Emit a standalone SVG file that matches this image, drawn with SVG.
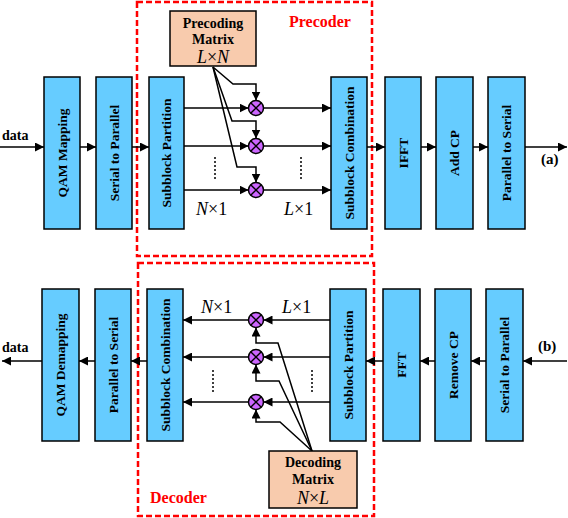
<svg xmlns="http://www.w3.org/2000/svg" width="568" height="518" viewBox="0 0 568 518">
<defs>
<marker id="ah" viewBox="0 0 10 10" refX="10" refY="5" markerWidth="9" markerHeight="9" markerUnits="userSpaceOnUse" orient="auto">
<path d="M0,0 L10,5 L0,10 z" fill="#000"/>
</marker>
<g id="mul">
<circle r="7.5" fill="#CC66FF" stroke="#000" stroke-width="1.5"/>
<path d="M-5.3,-5.3 L5.3,5.3 M-5.3,5.3 L5.3,-5.3" stroke="#000" stroke-width="1.3"/>
</g>
</defs>
<style>
.blk{fill:#66CCFF;stroke:#000;stroke-width:1.5}
.mat{fill:#F8CBAD;stroke:#000;stroke-width:1.5}
.bt{font-family:"Liberation Serif",serif;font-weight:bold;font-size:13.5px;text-anchor:middle}
.mt{font-family:"Liberation Serif",serif;font-weight:bold;font-size:14px;text-anchor:middle}
.math{font-family:"Liberation Serif",serif;font-size:18px}
.lbl{font-family:"Liberation Serif",serif;font-weight:bold;font-size:14px}
.red{font-family:"Liberation Serif",serif;font-weight:bold;font-size:16px;fill:#FF0000}
.c{fill:none;stroke:#000;stroke-width:1.5}
.a{fill:none;stroke:#000;stroke-width:1.5;marker-end:url(#ah)}
.dot{fill:none;stroke:#000;stroke-width:1.5;stroke-dasharray:2 2}
.dash{fill:none;stroke:#FF0000;stroke-width:2.5;stroke-dasharray:6 3}
</style>

<g id="precoder-frame">
<rect x="137" y="2" width="235" height="254" class="dash"/>
<text x="289" y="27" class="red">Precoder</text>
</g>
<g id="decoder-frame">
<rect x="138" y="263" width="236" height="253" class="dash"/>
<text x="150" y="503" class="red">Decoder</text>
</g>

<g id="connectors">
<line x1="0" y1="147" x2="44" y2="147" class="a"/>
<line x1="80" y1="147" x2="96" y2="147" class="a"/>
<line x1="132" y1="147" x2="149" y2="147" class="a"/>
<line x1="367" y1="147" x2="385" y2="147" class="a"/>
<line x1="421" y1="147" x2="436" y2="147" class="a"/>
<line x1="473" y1="147" x2="488" y2="147" class="a"/>
<line x1="525" y1="147" x2="567" y2="147" class="a"/>
<line x1="184" y1="108" x2="248.5" y2="108" class="a"/>
<line x1="184" y1="146" x2="248.5" y2="146" class="a"/>
<line x1="184" y1="190" x2="248.5" y2="190" class="a"/>
<line x1="263.5" y1="108" x2="331" y2="108" class="a"/>
<line x1="263.5" y1="146" x2="331" y2="146" class="a"/>
<line x1="263.5" y1="190" x2="331" y2="190" class="a"/>
<polyline points="213,67 233,84 256,84 256,100.5" class="a"/>
<polyline points="213,67 232,121 256,121 256,138.5" class="a"/>
<polyline points="213,67 237,167 256,167 256,182.5" class="a"/>
<line x1="215" y1="157" x2="215" y2="181" class="dot"/>
<line x1="301" y1="157" x2="301" y2="181" class="dot"/>
<line x1="567" y1="361" x2="523" y2="361" class="a"/>
<line x1="486" y1="361" x2="471" y2="361" class="a"/>
<line x1="435" y1="361" x2="420" y2="361" class="a"/>
<line x1="383" y1="361" x2="366" y2="361" class="a"/>
<line x1="147" y1="361" x2="131" y2="361" class="a"/>
<line x1="95" y1="361" x2="79" y2="361" class="a"/>
<line x1="42" y1="361" x2="2" y2="361" class="a"/>
<line x1="330" y1="320" x2="263.5" y2="320" class="a"/>
<line x1="330" y1="357" x2="263.5" y2="357" class="a"/>
<line x1="330" y1="402" x2="263.5" y2="402" class="a"/>
<line x1="248.5" y1="320" x2="183" y2="320" class="a"/>
<line x1="248.5" y1="357" x2="183" y2="357" class="a"/>
<line x1="248.5" y1="402" x2="183" y2="402" class="a"/>
<polyline points="312,451 278,343 256,343 256,327.5" class="a"/>
<polyline points="312,451 279,381 256,381 256,364.5" class="a"/>
<polyline points="312,451 280,422 256,422 256,409.5" class="a"/>
<line x1="213" y1="370" x2="213" y2="393" class="dot"/>
<line x1="312" y1="370" x2="312" y2="393" class="dot"/>
</g>

<g id="labels">
<text x="2" y="140" class="lbl">data</text>
<text x="541" y="164" class="lbl" style="font-size:15px">(a)</text>
<text x="2" y="352" class="lbl">data</text>
<text x="538" y="351" class="lbl" style="font-size:15px">(b)</text>
<text x="196" y="215" class="math"><tspan font-style="italic">N</tspan>×1</text>
<text x="284" y="215" class="math"><tspan font-style="italic">L</tspan>×1</text>
<text x="201" y="313" class="math"><tspan font-style="italic">N</tspan>×1</text>
<text x="282" y="313" class="math"><tspan font-style="italic">L</tspan>×1</text>
</g>

<g id="mult-top">
<use href="#mul" x="256" y="108"/>
<use href="#mul" x="256" y="146"/>
<use href="#mul" x="256" y="190"/>
</g>
<g id="mult-bottom">
<use href="#mul" x="256" y="320"/>
<use href="#mul" x="256" y="357"/>
<use href="#mul" x="256" y="402"/>
</g>

<g id="precoding-matrix">
<rect x="170" y="11" width="86" height="55" class="mat"/>
<text x="213" y="28" class="mt">Precoding</text>
<text x="213" y="44" class="mt">Matrix</text>
<text x="213" y="63" class="math" text-anchor="middle"><tspan font-style="italic">L</tspan>×<tspan font-style="italic">N</tspan></text>
</g>
<g id="decoding-matrix">
<rect x="269" y="451" width="88" height="57" class="mat"/>
<text x="313" y="467" class="mt">Decoding</text>
<text x="313" y="484" class="mt">Matrix</text>
<text x="313" y="504" class="math" text-anchor="middle"><tspan font-style="italic">N</tspan>×<tspan font-style="italic">L</tspan></text>
</g>

<g id="qam-mapping"><rect x="44" y="77" width="36" height="152" class="blk"/><text transform="translate(62,153) rotate(-90)" dy="0.35em" class="bt">QAM Mapping</text></g>
<g id="s2p-top"><rect x="96" y="77" width="36" height="152" class="blk"/><text transform="translate(114,153) rotate(-90)" dy="0.35em" class="bt">Serial to Parallel</text></g>
<g id="sp-top"><rect x="149" y="77" width="35" height="152" class="blk"/><text transform="translate(166.5,153) rotate(-90)" dy="0.35em" class="bt">Subblock Partition</text></g>
<g id="sc-top"><rect x="331" y="77" width="36" height="152" class="blk"/><text transform="translate(349,153) rotate(-90)" dy="0.35em" class="bt">Subblock Combination</text></g>
<g id="ifft"><rect x="385" y="77" width="36" height="152" class="blk"/><text transform="translate(403,153) rotate(-90)" dy="0.35em" class="bt">IFFT</text></g>
<g id="add-cp"><rect x="436" y="77" width="37" height="152" class="blk"/><text transform="translate(454.5,153) rotate(-90)" dy="0.35em" class="bt">Add CP</text></g>
<g id="p2s-top"><rect x="488" y="77" width="37" height="152" class="blk"/><text transform="translate(506.5,153) rotate(-90)" dy="0.35em" class="bt">Parallel to Serial</text></g>

<g id="qam-demapping"><rect x="42" y="289" width="37" height="152" class="blk"/><text transform="translate(60.5,365) rotate(-90)" dy="0.35em" class="bt">QAM Demapping</text></g>
<g id="p2s-bottom"><rect x="95" y="289" width="36" height="152" class="blk"/><text transform="translate(113,365) rotate(-90)" dy="0.35em" class="bt">Parallel to Serial</text></g>
<g id="sc-bottom"><rect x="147" y="289" width="36" height="152" class="blk"/><text transform="translate(165,365) rotate(-90)" dy="0.35em" class="bt">Subblock Combination</text></g>
<g id="sp-bottom"><rect x="330" y="289" width="36" height="152" class="blk"/><text transform="translate(348,365) rotate(-90)" dy="0.35em" class="bt">Subblock Partition</text></g>
<g id="fft"><rect x="383" y="289" width="37" height="152" class="blk"/><text transform="translate(401.5,365) rotate(-90)" dy="0.35em" class="bt">FFT</text></g>
<g id="remove-cp"><rect x="435" y="289" width="36" height="152" class="blk"/><text transform="translate(453,365) rotate(-90)" dy="0.35em" class="bt">Remove CP</text></g>
<g id="s2p-bottom"><rect x="486" y="289" width="37" height="152" class="blk"/><text transform="translate(504.5,365) rotate(-90)" dy="0.35em" class="bt">Serial to Parallel</text></g>
</svg>
